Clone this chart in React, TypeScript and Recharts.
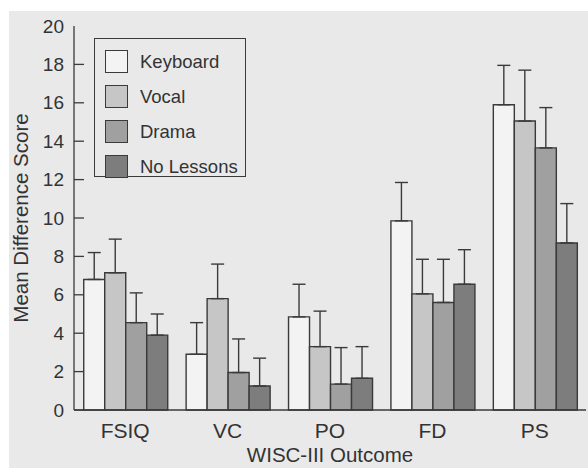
import { BarChart, Bar, XAxis, YAxis, ErrorBar, Legend } from 'recharts'

const outcomes = ['FSIQ', 'VC', 'PO', 'FD', 'PS']
const yTicks = [0, 2, 4, 6, 8, 10, 12, 14, 16, 18, 20]

// bar means and upper error lengths
const keyboard = [6.8, 2.9, 4.85, 9.85, 15.9]
const keyboardErr = [1.4, 1.65, 1.7, 2.0, 2.05]
const vocal = [7.15, 5.8, 3.3, 6.05, 15.05]
const vocalErr = [1.75, 1.8, 1.85, 1.8, 2.65]
const drama = [4.55, 1.95, 1.35, 5.6, 13.65]
const dramaErr = [1.55, 1.75, 1.9, 2.25, 2.1]
const noLessons = [3.9, 1.25, 1.65, 6.55, 8.7]
const noLessonsErr = [1.1, 1.45, 1.65, 1.8, 2.05]

const series = [
  { key: 'keyboard', name: 'Keyboard', fill: '#f3f3f3' },
  { key: 'vocal', name: 'Vocal', fill: '#c6c6c6' },
  { key: 'drama', name: 'Drama', fill: '#a0a0a0' },
  { key: 'noLessons', name: 'No Lessons', fill: '#7d7d7d' },
]

const data = outcomes.map((cat, i) => ({
  cat,
  keyboard: keyboard[i],
  keyboardErr: [0, keyboardErr[i]],
  vocal: vocal[i],
  vocalErr: [0, vocalErr[i]],
  drama: drama[i],
  dramaErr: [0, dramaErr[i]],
  noLessons: noLessons[i],
  noLessonsErr: [0, noLessonsErr[i]],
}))

const ink = '#3a3a3a'
const font = '"Liberation Sans", Arial, sans-serif'

const YTick = (props: any) => {
  const { x, y, payload } = props
  return (
    <g>
      {payload.value !== 20 && <line x1={x} y1={y} x2={x + 10} y2={y} stroke={ink} strokeWidth={1.3} />}
      <text x={x - 10} y={y} dy="0.35em" textAnchor="end" fontSize={19} fill="#333" fontFamily={font}>
        {payload.value}
      </text>
    </g>
  )
}

const LegendBox = () => (
  <div
    style={{
      border: `1.5px solid ${ink}`,
      width: 152,
      height: 139,
      boxSizing: 'border-box',
      paddingTop: 5,
      paddingLeft: 10,
      fontFamily: font,
      fontSize: 18.5,
      color: '#333',
    }}
  >
    {series.map((s) => (
      <div key={s.key} style={{ display: 'flex', alignItems: 'center', height: 35 }}>
        <div style={{ width: 23, height: 23, background: s.fill, border: `1.5px solid ${ink}`, boxSizing: 'border-box' }} />
        <span style={{ marginLeft: 12 }}>{s.name}</span>
      </div>
    ))}
  </div>
)

export default function App() {
  return (
    <div style={{ position: 'absolute', left: 0, top: 0, width: 588, height: 468, background: '#fff' }}>
      <div style={{ position: 'absolute', left: 9, top: 11, width: 579, height: 457, background: '#e9e9e9' }}>
        <BarChart
          width={579}
          height={457}
          data={data}
          margin={{ top: 15, right: 2, bottom: 0, left: 0 }}
          barCategoryGap="9.5%"
          barGap={0}
        >
          <XAxis
            dataKey="cat"
            tickLine={false}
            tickSize={0}
            tickMargin={13}
            height={58}
            axisLine={{ stroke: ink, strokeWidth: 1.3 }}
            tick={{ fontSize: 21, fill: '#333', fontFamily: font }}
            label={{
              content: () => (
                <text x={321} y={451} textAnchor="middle" fontSize={20.5} fill="#333" fontFamily={font}>
                  WISC-III Outcome
                </text>
              ),
            }}
          />
          <XAxis xAxisId="top" dataKey="cat" orientation="top" height={0} tick={false} tickLine={false} axisLine={{ stroke: ink, strokeWidth: 1.3 }} />
          <YAxis
            domain={[0, 20]}
            ticks={yTicks}
            width={65}
            tickSize={0}
            tickLine={false}
            tickMargin={0}
            axisLine={{ stroke: ink, strokeWidth: 1.3 }}
            tick={<YTick />}
            label={{
              content: () => (
                <text x={11} y={207} transform="rotate(-90 11 207)" textAnchor="middle" dominantBaseline="central" fontSize={20.5} fill="#333" fontFamily={font}>
                  Mean Difference Score
                </text>
              ),
            }}
          />
          <YAxis yAxisId="right" orientation="right" domain={[0, 20]} width={0} tick={false} tickLine={false} axisLine={{ stroke: ink, strokeWidth: 1.3 }} />
          <Legend
            content={<LegendBox />}
            wrapperStyle={{ left: 85, top: 27, width: 152, height: 0, overflow: 'visible' }}
          />
          {series.map((s) => (
            <Bar key={s.key} dataKey={s.key} name={s.name} fill={s.fill} stroke={ink} strokeWidth={1.4} isAnimationActive={false}>
              <ErrorBar dataKey={`${s.key}Err`} width={6.5} stroke={ink} strokeWidth={1.4} direction="y" />
            </Bar>
          ))}
        </BarChart>
      </div>
    </div>
  )
}
